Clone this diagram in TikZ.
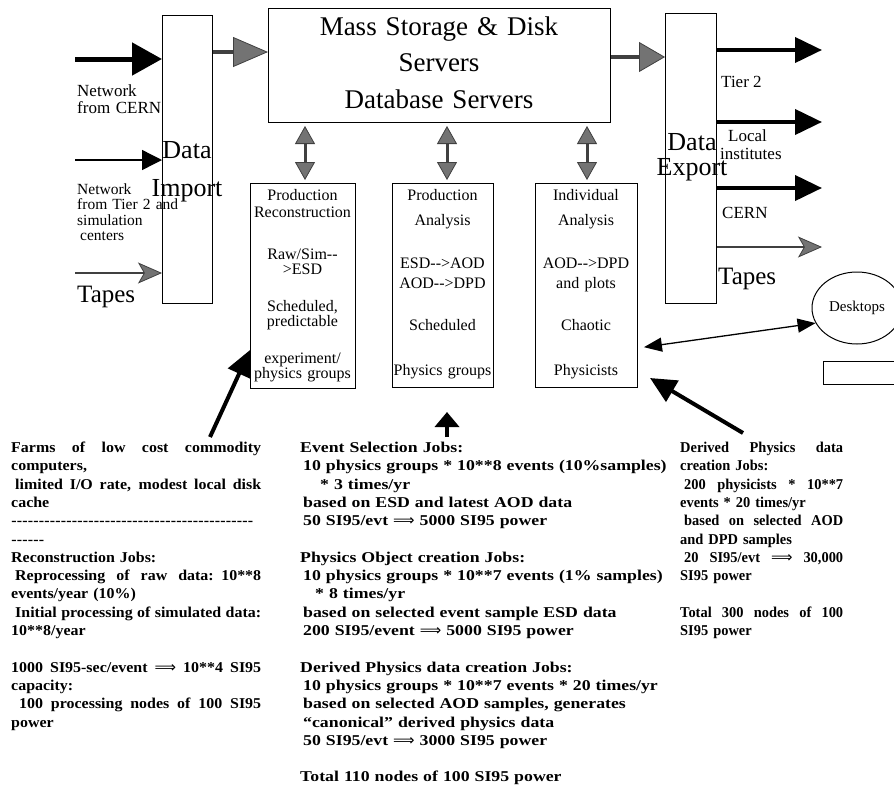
\documentclass[tikz,border=0pt]{standalone}
\usepackage{fontspec}
\setmainfont{Liberation Serif}
\newfontfamily\leftjobs[FakeStretch=1.064]{Liberation Serif}
\newfontfamily\midjobs[FakeStretch=1.185]{Liberation Serif}
\newfontfamily\rightjobs[FakeStretch=0.962]{Liberation Serif}
\newfontfamily\arrowfont{DejaVu Sans}
\usetikzlibrary{arrows.meta,shapes.geometric}
% a row of hyphens of given width
\newcommand{\dashrow}[1]{\makebox[#1]{\leaders\hbox to 5.5pt{\hss-\hss}\hfill}}
% a line spread to a given width (interword glue made stretchable again)
\newcommand{\fillline}[2]{\makebox[#1][s]{\spaceskip=\fontdimen2\font plus 10em\relax #2}}
% long double arrow set as text
\newcommand{\yields}{{\arrowfont\mdseries ⟹}}
\begin{document}
\begin{tikzpicture}[x=1pt,y=-1pt]
\tikzset{
  frame/.style={draw, line width=1pt, inner sep=0pt, anchor=north west},
  lbl/.style={inner sep=0pt, align=left, anchor=base west},
  boxtxt/.style={inner sep=0pt, align=center, anchor=base, text width=104pt,
    font=\fontsize{16}{15.5}\selectfont},
  jobs/.style={inner sep=0pt, align=left, anchor=base west},
  fatarrow/.style={line width=5pt, -{Triangle[length=30pt,width=32pt]}},
  thinarrow/.style={line width=1.4pt, -{Triangle[length=20pt,width=20pt]}},
  tapearrow/.style={line width=2.5pt, draw=black!75,
    -{Stealth[length=24pt,width=21pt,inset=6pt,fill=black!55,line width=0.8pt]}},
  feedarrow/.style={line width=4.5pt, draw=black!75,
    -{Triangle[length=#1,width=30pt,fill=black!55,line width=0.8pt]}},
  duplex/.style={line width=3pt, draw=black!75,
    {Triangle[length=18pt,width=20pt,fill=black!55,line width=0.8pt]}-{Triangle[length=18pt,width=20pt,fill=black!55,line width=0.8pt]}},
  outarrow/.style={line width=4pt, -{Triangle[length=27pt,width=25pt]}},
  pointer/.style={line width=4pt, -{Triangle[length=#1,width=24pt]}},
  deskarrow/.style={line width=1.3pt, {Triangle[length=18pt,width=14pt]}-{Triangle[length=18pt,width=14pt]}},
}
\useasboundingbox (0,0) rectangle (894,788);
\fill[white] (0,0) rectangle (894,788);

% main boxes
\node[frame, minimum width=50pt,  minimum height=288pt] (imp) at (162,15) {};
\node[frame, minimum width=342pt, minimum height=114pt] (ms)  at (268,8) {};
\node[frame, minimum width=51pt,  minimum height=290pt] (exp) at (665,13) {};
\node[frame, minimum width=105pt, minimum height=205pt] (b1)  at (250,183) {};
\node[frame, minimum width=101pt, minimum height=204pt] (b2)  at (392,183) {};
\node[frame, minimum width=102pt, minimum height=204pt] (b3)  at (535,183) {};

% large titles
\node[inner sep=0pt, align=center, anchor=base, text width=340pt,
  font=\fontsize{27}{36.5}\selectfont] (mstxt) at (439,35)
  {Mass Storage \& Disk\\Servers\\Database Servers};
\node[inner sep=0pt, align=center, anchor=base, text width=80pt,
  font=\fontsize{26}{38}\selectfont] (imptxt) at (187,158) {Data\\Import};
\node[inner sep=0pt, align=center, anchor=base, text width=80pt,
  font=\fontsize{26}{25}\selectfont] (exptxt) at (692,150) {Data\\Export};

% process boxes
\node[boxtxt] (b1txt) at (302.5,200) {Production\\[2pt]Reconstruction\\[26pt]Raw/Sim-{}-\\>ESD\\[21pt]Scheduled,\\predictable\\[21pt]experiment/\\physics groups};
\node[boxtxt] (b2txt) at (442.5,200) {Production\\[9.5pt]Analysis\\[27.5pt]ESD-{}->AOD\\[4.5pt]AOD-{}->DPD\\[26.5pt]Scheduled\\[29.5pt]Physics groups};
\node[boxtxt] (b3txt) at (586,200) {Individual\\[9.5pt]Analysis\\[27.5pt]AOD-{}->DPD\\[4.5pt]and plots\\[26.5pt]Chaotic\\[29.5pt]Physicists};

% incoming labels
\node[lbl, text width=100pt, font=\fontsize{17}{17}\selectfont] (lcern) at (77,96) {Network\\from CERN};
\node[lbl, text width=110pt, font=\fontsize{15.5}{15.5}\selectfont] (ltier) at (77,194) {Network\\from Tier 2 and\\simulation\\\hspace*{3pt}centers};
\node[lbl, font=\fontsize{25}{25}\selectfont] (ltape) at (77,302) {Tapes};

% outgoing labels
\node[lbl, font=\fontsize{17}{17}\selectfont] (ltier2) at (721,87) {Tier 2};
\node[lbl, text width=80pt, font=\fontsize{17}{18}\selectfont] (lloc) at (720,141) {\hspace*{8pt}Local\\institutes};
\node[lbl, font=\fontsize{17}{17}\selectfont] (lcern2) at (722,218) {CERN};
\node[lbl, font=\fontsize{25}{25}\selectfont] (ltape2) at (718,284) {Tapes};

% desktops
\node[draw, ellipse, line width=1pt, minimum width=90pt, minimum height=72pt, inner sep=0pt,
  font=\fontsize{15}{15}\selectfont] (desk) at (857,308) {Desktops};
\node[frame, minimum width=90pt, minimum height=23pt] (rect) at (823,361) {};

% incoming arrows
\coordinate (in1) at (75,59);
\coordinate (in2) at (75,160);
\coordinate (in3) at (75,273);
\draw[fatarrow] (in1) -- (in1 -| imp.west);
\draw[thinarrow] (in2) -- (in2 -| imp.west);
\draw[tapearrow] (in3) -- (in3 -| imp.west);

% import -> storage -> export
\draw[feedarrow=35pt] (imp.east |- 0,52) -- (ms.west |- 0,52);
\draw[feedarrow=26pt] (ms.east |- 0,57) -- (exp.west |- 0,57);

% outgoing arrows
\coordinate (o1) at (822,50);
\coordinate (o2) at (822,122);
\coordinate (o3) at (822,188);
\coordinate (o4) at (822,247);
\draw[outarrow] (exp.east |- o1) -- (o1);
\draw[outarrow] (exp.east |- o2) -- (o2);
\draw[outarrow] (exp.east |- o3) -- (o3);
\draw[tapearrow] (exp.east |- o4) -- (o4);

% storage <-> processing
\draw[duplex, shorten <=3pt, shorten >=3pt] (ms.south -| 305,0) -- (b1.north -| 305,0);
\draw[duplex, shorten <=3pt, shorten >=3pt] (ms.south -| 447,0) -- (b2.north -| 447,0);
\draw[duplex, shorten <=3pt, shorten >=3pt] (ms.south -| 587,0) -- (b3.north -| 587,0);

% desktops link
\draw[deskarrow, shorten <=6pt] (b3.east |- 0,348) -- (desk.200);

% job descriptions
\node[jobs, text width=250pt, font=\leftjobs\bfseries\fontsize{15}{18.3}\selectfont] (jl) at (11,452.5)
{\fillline{250pt}{Farms of low cost commodity}\\
computers,\\
\hspace*{4pt}\fillline{246pt}{limited I/O rate, modest local disk}\\
cache\\
\dashrow{246pt}\\
\dashrow{37pt}\\
Reconstruction Jobs:\\
\hspace*{4pt}\fillline{246pt}{Reprocessing of raw data: 10**8}\\
events/year (10\%)\\
\hspace*{4pt}\fillline{246pt}{Initial processing of simulated data:}\\
10**8/year\\[18.3pt]
\fillline{250pt}{1000 SI95-sec/event \yields{} 10**4 SI95}\\
capacity:\\
\hspace*{8pt}\fillline{242pt}{100 processing nodes of 100 SI95}\\
power};

\node[jobs, text width=380pt, font=\midjobs\bfseries\fontsize{15}{18.3}\selectfont] (jm) at (300,452.5)
{Event Selection Jobs:\\
\hspace*{3pt}10 physics groups * 10**8 events (10\%samples)\\
\hspace*{20pt}* 3 times/yr\\
\hspace*{3pt}based on ESD and latest AOD data\\
\hspace*{3pt}50 SI95/evt \yields{} 5000 SI95 power\\[18.3pt]
Physics Object creation Jobs:\\
\hspace*{3pt}10 physics groups * 10**7 events (1\% samples)\\
\hspace*{15pt}* 8 times/yr\\
\hspace*{3pt}based on selected event sample ESD data\\
\hspace*{3pt}200 SI95/event \yields{} 5000 SI95 power\\[18.3pt]
Derived Physics data creation Jobs:\\
\hspace*{3pt}10 physics groups * 10**7 events * 20 times/yr\\
\hspace*{3pt}based on selected AOD samples, generates\\
\hspace*{3pt}“canonical” derived physics data\\
\hspace*{3pt}50 SI95/evt \yields{} 3000 SI95 power\\[18.3pt]
Total 110 nodes of 100 SI95 power};

\node[jobs, text width=163pt, font=\rightjobs\bfseries\fontsize{15}{18.3}\selectfont] (jr) at (680,452.5)
{\fillline{163pt}{Derived Physics data}\\
creation Jobs:\\
\hspace*{4pt}\fillline{159pt}{200 physicists * 10**7}\\
events * 20 times/yr\\
\hspace*{4pt}\fillline{159pt}{based on selected AOD}\\
and DPD samples\\
\hspace*{4pt}\fillline{159pt}{20 SI95/evt \yields{} 30,000}\\
SI95 power\\[18.3pt]
\fillline{163pt}{Total 300 nodes of 100}\\
SI95 power};

% pointers from the job notes
\coordinate (p1) at (210,437);
\coordinate (p2) at (447,437);
\coordinate (p2tip) at (447,412);
\coordinate (p3) at (743,433);
\coordinate (p3tip) at (650,378);
\draw[pointer=26pt] (p1) -- (b1.west |- 0,350);
\draw[pointer=15pt] (p2) -- (p2tip);
\draw[pointer=26pt] (p3) -- (p3tip);
\end{tikzpicture}
\end{document}
